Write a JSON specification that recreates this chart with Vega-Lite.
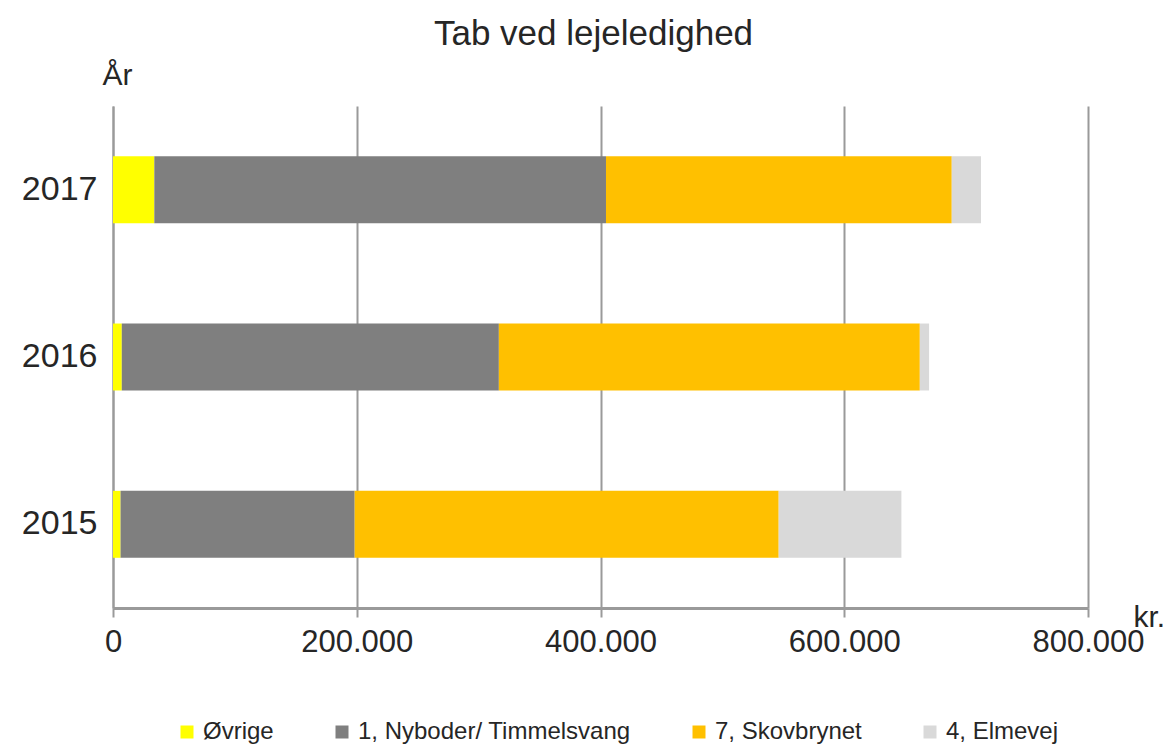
{
  "$schema": "https://vega.github.io/schema/vega-lite/v6.json",
  "width": 975,
  "height": 502,
  "autosize": {"type": "none"},
  "padding": {"left": 113, "top": 106, "right": 83, "bottom": 141},
  "background": "white",
  "config": {
    "locale": {"number": {"decimal": ",", "thousands": ".", "grouping": [3], "currency": ["", " kr."]}},
    "font": "Liberation Sans",
    "view": {"stroke": null},
    "axis": {"labelColor": "#262626", "titleColor": "#262626", "labelFont": "Liberation Sans", "titleFont": "Liberation Sans", "titleFontWeight": "normal"}
  },
  "title": {
    "text": "Tab ved lejeledighed",
    "fontSize": 35,
    "font": "Liberation Sans",
    "fontWeight": "normal",
    "color": "#262626",
    "anchor": "middle",
    "offset": 8,
    "dx": -7
  },
  "data": {
    "values": [
      {"year": "2017", "series": "Øvrige", "o": 1, "value": 33900},
      {"year": "2017", "series": "1, Nyboder/ Timmelsvang", "o": 2, "value": 370600},
      {"year": "2017", "series": "7, Skovbrynet", "o": 3, "value": 283700},
      {"year": "2017", "series": "4, Elmevej", "o": 4, "value": 24000},
      {"year": "2016", "series": "Øvrige", "o": 1, "value": 7200},
      {"year": "2016", "series": "1, Nyboder/ Timmelsvang", "o": 2, "value": 309400},
      {"year": "2016", "series": "7, Skovbrynet", "o": 3, "value": 345400},
      {"year": "2016", "series": "4, Elmevej", "o": 4, "value": 7600},
      {"year": "2015", "series": "Øvrige", "o": 1, "value": 6200},
      {"year": "2015", "series": "1, Nyboder/ Timmelsvang", "o": 2, "value": 192100},
      {"year": "2015", "series": "7, Skovbrynet", "o": 3, "value": 347900},
      {"year": "2015", "series": "4, Elmevej", "o": 4, "value": 100700}
    ]
  },
  "mark": {"type": "bar"},
  "encoding": {
    "y": {
      "field": "year",
      "type": "nominal",
      "sort": "descending",
      "scale": {"paddingInner": 0.6, "paddingOuter": 0.3},
      "axis": {
        "title": "År",
        "titleAngle": 0,
        "titleFontSize": 30,
        "titleAlign": "left",
        "titleBaseline": "bottom",
        "titleX": -11,
        "titleY": -16,
        "labelFontSize": 34,
        "labelPadding": 16,
        "ticks": false,
        "domainColor": "#9a9a9a",
        "domainWidth": 2
      }
    },
    "x": {
      "field": "value",
      "type": "quantitative",
      "stack": "zero",
      "scale": {"domain": [0, 800000], "nice": false},
      "axis": {
        "title": "kr.",
        "titleFontSize": 30,
        "titleAlign": "left",
        "titleBaseline": "top",
        "titleX": 1020,
        "titleY": -6,
        "values": [0, 200000, 400000, 600000, 800000],
        "format": ",d",
        "labelFontSize": 31,
        "labelPadding": 10,
        "labelFlush": false,
        "tickSize": 9,
        "tickColor": "#9a9a9a",
        "tickWidth": 2,
        "domainColor": "#9a9a9a",
        "domainWidth": 3,
        "grid": true,
        "gridColor": "#9a9a9a",
        "gridWidth": 2
      }
    },
    "color": {
      "field": "series",
      "type": "nominal",
      "sort": ["Øvrige", "1, Nyboder/ Timmelsvang", "7, Skovbrynet", "4, Elmevej"],
      "scale": {
        "domain": ["Øvrige", "1, Nyboder/ Timmelsvang", "7, Skovbrynet", "4, Elmevej"],
        "range": ["#ffff00", "#7f7f7f", "#ffc000", "#d9d9d9"]
      },
      "legend": {
        "title": null,
        "orient": "none",
        "direction": "horizontal",
        "legendX": 62,
        "legendY": 614,
        "padding": 0,
        "columnPadding": 56,
        "symbolType": "square",
        "symbolSize": 169,
        "symbolStrokeWidth": 0,
        "labelOffset": 4,
        "labelFontSize": 24,
        "labelLimit": 500,
        "labelColor": "#262626",
        "labelFont": "Liberation Sans"
      }
    },
    "order": {"field": "o", "type": "quantitative"}
  }
}
